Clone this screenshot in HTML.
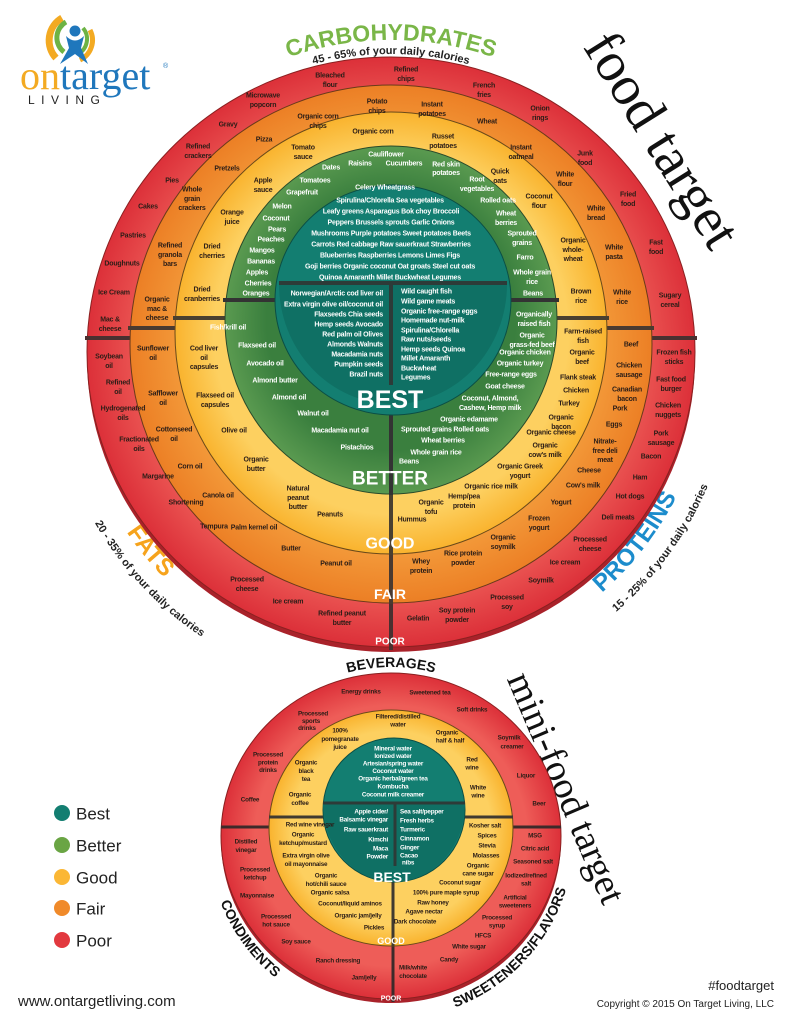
<!DOCTYPE html>
<html><head><meta charset="utf-8"><style>
html,body{margin:0;padding:0;background:#fff;width:791px;height:1024px;overflow:hidden}
svg{display:block}
.d,.w{font-family:"Liberation Sans Narrow","Liberation Sans",sans-serif;font-weight:bold;font-size:7px;letter-spacing:-0.2px;text-anchor:middle;dominant-baseline:central}
.d{fill:#2b1d17}.w{fill:#fff}
.m{font-size:6.3px}
.e{text-anchor:end}.s{text-anchor:start}
.lab{font-family:"Liberation Sans",sans-serif;font-weight:bold;fill:#fff;text-anchor:middle;dominant-baseline:central}
.leg{font-family:"Liberation Sans",sans-serif;font-size:17px;fill:#222;dominant-baseline:central}
</style></head><body>
<svg width="791" height="1024" viewBox="0 0 791 1024" xmlns="http://www.w3.org/2000/svg">
<defs>
<path id="carb" d="M79,352 A312,312 0 0 1 703,352"/>
<path id="carbs" d="M93,352 A298,298 0 0 1 689,352"/>
<path id="fat" d="M71,352 A320,320 0 0 0 391,672"/>
<path id="fats" d="M49,352 A342,342 0 0 0 391,694"/>
<path id="pro" d="M391,672 A320,320 0 0 0 711,352"/>
<path id="pros" d="M391,696 A344,344 0 0 0 735,352"/>
<path id="bev" d="M222,836 A169,169 0 0 1 560,836"/>
<path id="cond" d="M208,836 A183,183 0 0 0 391,1019"/>
<path id="swt" d="M391,1019 A183,183 0 0 0 574,836"/>
<radialGradient id="gr" cx="50%" cy="50%" r="50%"><stop offset="80%" stop-color="#ee5d58"/><stop offset="100%" stop-color="#dc3039"/></radialGradient>
<radialGradient id="go" cx="50%" cy="50%" r="50%"><stop offset="80%" stop-color="#f39a3a"/><stop offset="100%" stop-color="#ec7f25"/></radialGradient>
<radialGradient id="gy" cx="50%" cy="50%" r="50%"><stop offset="82%" stop-color="#fdd060"/><stop offset="100%" stop-color="#f9b32e"/></radialGradient>
<radialGradient id="gg" cx="50%" cy="50%" r="50%"><stop offset="75%" stop-color="#3a7f3e"/><stop offset="100%" stop-color="#5a9a50"/></radialGradient>
</defs>

<!-- logo -->
<path d="M56,58 A26,26 0 0 1 62,18" fill="none" stroke="#f3aa22" stroke-width="7"/>
<path d="M64,52 A18,18 0 0 1 66,22" fill="none" stroke="#6db344" stroke-width="5"/>
<path d="M90,30 A22,22 0 0 1 80,60" fill="none" stroke="#f3aa22" stroke-width="5"/>
<path d="M83,28 A17,17 0 0 1 78,54" fill="none" stroke="#6db344" stroke-width="4"/>
<circle cx="75" cy="31" r="5.5" fill="#1f77bc"/>
<path d="M66,36 Q75,45 84,36 L81,48 L88,64 L75,54 L60,64 L69,48 Z" fill="#1f77bc"/>
<text x="20" y="89" font-family="Liberation Serif,serif" font-size="40" fill="#f3aa22">on<tspan fill="#1f77bc">target</tspan></text>
<text x="163" y="68" font-family="Liberation Sans,sans-serif" font-size="7" fill="#1f77bc">®</text>
<text x="28" y="104" font-family="Liberation Sans,sans-serif" font-size="12" letter-spacing="6.5" fill="#222">LIVING</text>

<!-- titles -->
<text x="662" y="140" font-family="Liberation Serif,serif" font-size="56" fill="#111" text-anchor="middle" dominant-baseline="central" transform="rotate(58 662 140)">food target</text>
<text x="566" y="788" font-family="Liberation Serif,serif" font-size="38" fill="#111" text-anchor="middle" dominant-baseline="central" transform="rotate(67 566 788)">mini-food target</text>

<text font-family="Liberation Sans,sans-serif" font-weight="bold" font-size="23" fill="#7ab648"><textPath href="#carb" startOffset="50%" text-anchor="middle">CARBOHYDRATES</textPath></text>
<text font-family="Liberation Sans,sans-serif" font-weight="bold" font-size="11" fill="#222"><textPath href="#carbs" startOffset="50%" text-anchor="middle">45 - 65% of your daily calories</textPath></text>
<text font-family="Liberation Sans,sans-serif" font-weight="bold" font-size="24" fill="#f6a31c"><textPath href="#fat" startOffset="44%" text-anchor="middle">FATS</textPath></text>
<text font-family="Liberation Sans,sans-serif" font-weight="bold" font-size="11" fill="#222"><textPath href="#fats" startOffset="48%" text-anchor="middle">20 - 35% of your daily calories</textPath></text>
<text font-family="Liberation Sans,sans-serif" font-weight="bold" font-size="24" fill="#1c8ccc"><textPath href="#pro" startOffset="58%" text-anchor="middle">PROTEINS</textPath></text>
<text font-family="Liberation Sans,sans-serif" font-weight="bold" font-size="11" fill="#222"><textPath href="#pros" startOffset="60%" text-anchor="middle">15 - 25% of your daily calories</textPath></text>

<!-- big target -->
<ellipse cx="391" cy="358" rx="304" ry="294" fill="#a9222a"/>
<ellipse cx="391" cy="352" rx="304" ry="295" fill="url(#gr)" stroke="#8a2020" stroke-width="1"/>
<line x1="85" y1="338" x2="697" y2="338" stroke="#4a3030" stroke-width="4"/>
<line x1="391" y1="338" x2="391" y2="650" stroke="#4a3030" stroke-width="4"/>
<ellipse cx="391" cy="344" rx="261" ry="259" fill="url(#go)" stroke="#6a3a1a" stroke-width="1"/>
<line x1="128" y1="328" x2="654" y2="328" stroke="#4a3a30" stroke-width="4"/>
<line x1="391" y1="328" x2="391" y2="604" stroke="#4a3a30" stroke-width="4"/>
<ellipse cx="391" cy="333" rx="216" ry="221" fill="url(#gy)" stroke="#6a4a1a" stroke-width="1"/>
<line x1="173" y1="318" x2="609" y2="318" stroke="#4a4030" stroke-width="4"/>
<line x1="391" y1="318" x2="391" y2="555" stroke="#4a4030" stroke-width="4"/>
<ellipse cx="391" cy="320" rx="166" ry="174" fill="url(#gg)" stroke="#2a4a2a" stroke-width="1"/>
<line x1="223" y1="300" x2="559" y2="300" stroke="#333" stroke-width="4"/>
<line x1="391" y1="300" x2="391" y2="495" stroke="#333" stroke-width="4"/>
<ellipse cx="393" cy="300" rx="118" ry="115" fill="#137e71" stroke="#0b4e45" stroke-width="1"/>
<path d="M279,284 L507,284 A114,120 0 0 1 279,284 Z" fill="#0f7064"/>
<line x1="279" y1="283" x2="507" y2="283" stroke="#2d3b38" stroke-width="4"/>
<line x1="391" y1="283" x2="391" y2="385" stroke="#2d3b38" stroke-width="4"/>

<text class="lab" x="390" y="400" font-size="25">BEST</text>
<text class="lab" x="390" y="479" font-size="19">BETTER</text>
<text class="lab" x="390" y="544" font-size="16">GOOD</text>
<text class="lab" x="390" y="594" font-size="14">FAIR</text>
<text class="lab" x="390" y="642" font-size="10">POOR</text>

<!-- poor -->
<g class="d">
<text class="d" x="330" y="76">Bleached<tspan x="330" dy="9">flour</tspan></text>
<text class="d" x="406" y="70">Refined<tspan x="406" dy="9">chips</tspan></text>
<text class="d" x="484" y="86">French<tspan x="484" dy="9">fries</tspan></text>
<text class="d" x="263" y="96">Microwave<tspan x="263" dy="9">popcorn</tspan></text>
<text class="d" x="540" y="109">Onion<tspan x="540" dy="9">rings</tspan></text>
<text class="d" x="228" y="125">Gravy</text>
<text class="d" x="198" y="147">Refined<tspan x="198" dy="9">crackers</tspan></text>
<text class="d" x="585" y="154">Junk<tspan x="585" dy="9">food</tspan></text>
<text class="d" x="172" y="181">Pies</text>
<text class="d" x="148" y="207">Cakes</text>
<text class="d" x="628" y="195">Fried<tspan x="628" dy="9">food</tspan></text>
<text class="d" x="133" y="236">Pastries</text>
<text class="d" x="656" y="243">Fast<tspan x="656" dy="9">food</tspan></text>
<text class="d" x="122" y="264">Doughnuts</text>
<text class="d" x="670" y="296">Sugary<tspan x="670" dy="9">cereal</tspan></text>
<text class="d" x="114" y="293">Ice Cream</text>
<text class="d" x="110" y="320">Mac &amp;<tspan x="110" dy="9">cheese</tspan></text>
<text class="d" x="109" y="357">Soybean<tspan x="109" dy="9">oil</tspan></text>
<text class="d" x="118" y="383">Refined<tspan x="118" dy="9">oil</tspan></text>
<text class="d" x="123" y="409">Hydrogenated<tspan x="123" dy="9">oils</tspan></text>
<text class="d" x="139" y="440">Fractionated<tspan x="139" dy="9">oils</tspan></text>
<text class="d" x="158" y="477">Margarine</text>
<text class="d" x="186" y="503">Shortening</text>
<text class="d" x="214" y="527">Tempura</text>
<text class="d" x="247" y="580">Processed<tspan x="247" dy="9">cheese</tspan></text>
<text class="d" x="288" y="602">Ice cream</text>
<text class="d" x="342" y="614">Refined peanut<tspan x="342" dy="9">butter</tspan></text>
<text class="d" x="674" y="353">Frozen fish<tspan x="674" dy="9">sticks</tspan></text>
<text class="d" x="671" y="380">Fast food<tspan x="671" dy="9">burger</tspan></text>
<text class="d" x="668" y="406">Chicken<tspan x="668" dy="9">nuggets</tspan></text>
<text class="d" x="661" y="434">Pork<tspan x="661" dy="9">sausage</tspan></text>
<text class="d" x="651" y="457">Bacon</text>
<text class="d" x="640" y="478">Ham</text>
<text class="d" x="630" y="497">Hot dogs</text>
<text class="d" x="618" y="518">Deli meats</text>
<text class="d" x="590" y="540">Processed<tspan x="590" dy="9">cheese</tspan></text>
<text class="d" x="565" y="563">Ice cream</text>
<text class="d" x="541" y="581">Soymilk</text>
<text class="d" x="507" y="598">Processed<tspan x="507" dy="9">soy</tspan></text>
<text class="d" x="457" y="611">Soy protein<tspan x="457" dy="9">powder</tspan></text>
<text class="d" x="418" y="619">Gelatin</text>
</g>

<!-- fair -->
<text class="d" x="377" y="102">Potato<tspan x="377" dy="9">chips</tspan></text>
<text class="d" x="432" y="105">Instant<tspan x="432" dy="9">potatoes</tspan></text>
<text class="d" x="318" y="117">Organic corn<tspan x="318" dy="9">chips</tspan></text>
<text class="d" x="487" y="122">Wheat</text>
<text class="d" x="264" y="140">Pizza</text>
<text class="d" x="521" y="148">Instant<tspan x="521" dy="9">oatmeal</tspan></text>
<text class="d" x="227" y="169">Pretzels</text>
<text class="d" x="565" y="175">White<tspan x="565" dy="9">flour</tspan></text>
<text class="d" x="192" y="190">Whole<tspan x="192" dy="9">grain</tspan><tspan x="192" dy="9">crackers</tspan></text>
<text class="d" x="596" y="209">White<tspan x="596" dy="9">bread</tspan></text>
<text class="d" x="170" y="246">Refined<tspan x="170" dy="9">granola</tspan><tspan x="170" dy="9">bars</tspan></text>
<text class="d" x="614" y="248">White<tspan x="614" dy="9">pasta</tspan></text>
<text class="d" x="157" y="300">Organic<tspan x="157" dy="9">mac &amp;</tspan><tspan x="157" dy="9">cheese</tspan></text>
<text class="d" x="622" y="293">White<tspan x="622" dy="9">rice</tspan></text>
<text class="d" x="153" y="349">Sunflower<tspan x="153" dy="9">oil</tspan></text>
<text class="d" x="163" y="394">Safflower<tspan x="163" dy="9">oil</tspan></text>
<text class="d" x="174" y="430">Cottonseed<tspan x="174" dy="9">oil</tspan></text>
<text class="d" x="190" y="467">Corn oil</text>
<text class="d" x="218" y="496">Canola oil</text>
<text class="d" x="254" y="528">Palm kernel oil</text>
<text class="d" x="291" y="549">Butter</text>
<text class="d" x="336" y="564">Peanut oil</text>
<text class="d" x="631" y="345">Beef</text>
<text class="d" x="629" y="366">Chicken<tspan x="629" dy="9">sausage</tspan></text>
<text class="d" x="627" y="390">Canadian<tspan x="627" dy="9">bacon</tspan></text>
<text class="d" x="620" y="409">Pork</text>
<text class="d" x="614" y="425">Eggs</text>
<text class="d" x="605" y="442">Nitrate-<tspan x="605" dy="9">free deli</tspan><tspan x="605" dy="9">meat</tspan></text>
<text class="d" x="589" y="471">Cheese</text>
<text class="d" x="583" y="486">Cow's milk</text>
<text class="d" x="561" y="503">Yogurt</text>
<text class="d" x="539" y="519">Frozen<tspan x="539" dy="9">yogurt</tspan></text>
<text class="d" x="503" y="538">Organic<tspan x="503" dy="9">soymilk</tspan></text>
<text class="d" x="463" y="554">Rice protein<tspan x="463" dy="9">powder</tspan></text>
<text class="d" x="421" y="562">Whey<tspan x="421" dy="9">protein</tspan></text>

<!-- good -->
<text class="d" x="373" y="132">Organic corn</text>
<text class="d" x="443" y="137">Russet<tspan x="443" dy="9">potatoes</tspan></text>
<text class="d" x="303" y="148">Tomato<tspan x="303" dy="9">sauce</tspan></text>
<text class="d" x="263" y="181">Apple<tspan x="263" dy="9">sauce</tspan></text>
<text class="d" x="500" y="172">Quick<tspan x="500" dy="9">oats</tspan></text>
<text class="d" x="232" y="213">Orange<tspan x="232" dy="9">juice</tspan></text>
<text class="d" x="539" y="197">Coconut<tspan x="539" dy="9">flour</tspan></text>
<text class="d" x="212" y="247">Dried<tspan x="212" dy="9">cherries</tspan></text>
<text class="d" x="573" y="241">Organic<tspan x="573" dy="9">whole-</tspan><tspan x="573" dy="9">wheat</tspan></text>
<text class="d" x="202" y="290">Dried<tspan x="202" dy="9">cranberries</tspan></text>
<text class="d" x="581" y="292">Brown<tspan x="581" dy="9">rice</tspan></text>
<text class="d" x="204" y="349">Cod liver<tspan x="204" dy="9">oil</tspan><tspan x="204" dy="9">capsules</tspan></text>
<text class="d" x="215" y="396">Flaxseed oil<tspan x="215" dy="9">capsules</tspan></text>
<text class="d" x="234" y="431">Olive oil</text>
<text class="d" x="256" y="460">Organic<tspan x="256" dy="9">butter</tspan></text>
<text class="d" x="298" y="489">Natural<tspan x="298" dy="9">peanut</tspan><tspan x="298" dy="9">butter</tspan></text>
<text class="d" x="330" y="515">Peanuts</text>
<text class="d" x="583" y="332">Farm-raised<tspan x="583" dy="9">fish</tspan></text>
<text class="d" x="582" y="353">Organic<tspan x="582" dy="9">beef</tspan></text>
<text class="d" x="578" y="378">Flank steak</text>
<text class="d" x="576" y="391">Chicken</text>
<text class="d" x="569" y="404">Turkey</text>
<text class="d" x="561" y="418">Organic<tspan x="561" dy="9">bacon</tspan></text>
<text class="d" x="551" y="433">Organic cheese</text>
<text class="d" x="545" y="446">Organic<tspan x="545" dy="9">cow's milk</tspan></text>
<text class="d" x="520" y="467">Organic Greek<tspan x="520" dy="9">yogurt</tspan></text>
<text class="d" x="491" y="487">Organic rice milk</text>
<text class="d" x="464" y="497">Hemp/pea<tspan x="464" dy="9">protein</tspan></text>
<text class="d" x="431" y="503">Organic<tspan x="431" dy="9">tofu</tspan></text>
<text class="d" x="412" y="520">Hummus</text>

<!-- better -->
<text class="w" x="386" y="155">Cauliflower</text>
<text class="w" x="331" y="168">Dates</text>
<text class="w" x="360" y="164">Raisins</text>
<text class="w" x="404" y="164">Cucumbers</text>
<text class="w" x="446" y="165">Red skin<tspan x="446" dy="8">potatoes</tspan></text>
<text class="w" x="315" y="181">Tomatoes</text>
<text class="w" x="477" y="180">Root<tspan x="477" dy="9">vegetables</tspan></text>
<text class="w" x="302" y="193">Grapefruit</text>
<text class="w" x="498" y="201">Rolled oats</text>
<text class="w" x="282" y="207">Melon</text>
<text class="w" x="506" y="214">Wheat<tspan x="506" dy="9">berries</tspan></text>
<text class="w" x="276" y="219">Coconut</text>
<text class="w" x="277" y="230">Pears</text>
<text class="w" x="522" y="234">Sprouted<tspan x="522" dy="9">grains</tspan></text>
<text class="w" x="271" y="240">Peaches</text>
<text class="w" x="262" y="251">Mangos</text>
<text class="w" x="525" y="258">Farro</text>
<text class="w" x="261" y="262">Bananas</text>
<text class="w" x="257" y="273">Apples</text>
<text class="w" x="532" y="273">Whole grain<tspan x="532" dy="9">rice</tspan></text>
<text class="w" x="258" y="284">Cherries</text>
<text class="w" x="256" y="294">Oranges</text>
<text class="w" x="533" y="294">Beans</text>
<text class="w" x="228" y="328">Fish/krill oil</text>
<text class="w" x="257" y="346">Flaxseed oil</text>
<text class="w" x="265" y="364">Avocado oil</text>
<text class="w" x="275" y="381">Almond butter</text>
<text class="w" x="289" y="398">Almond oil</text>
<text class="w" x="313" y="414">Walnut oil</text>
<text class="w" x="340" y="431">Macadamia nut oil</text>
<text class="w" x="357" y="448">Pistachios</text>
<text class="w" x="534" y="315">Organically<tspan x="534" dy="9">raised fish</tspan></text>
<text class="w" x="532" y="336">Organic<tspan x="532" dy="9">grass-fed beef</tspan></text>
<text class="w" x="525" y="353">Organic chicken</text>
<text class="w" x="520" y="364">Organic turkey</text>
<text class="w" x="511" y="375">Free-range eggs</text>
<text class="w" x="505" y="387">Goat cheese</text>
<text class="w" x="490" y="399">Coconut, Almond,<tspan x="490" dy="9">Cashew, Hemp milk</tspan></text>
<text class="w" x="469" y="420">Organic edamame</text>
<text class="w" x="445" y="430">Sprouted grains   Rolled oats</text>
<text class="w" x="443" y="441">Wheat berries</text>
<text class="w" x="436" y="453">Whole grain rice</text>
<text class="w" x="409" y="462">Beans</text>

<!-- best -->
<text class="w" x="385" y="188">Celery   Wheatgrass</text>
<text class="w" x="390" y="201">Spirulina/Chlorella   Sea vegetables</text>
<text class="w" x="391" y="212">Leafy greens   Asparagus   Bok choy   Broccoli</text>
<text class="w" x="391" y="223">Peppers   Brussels sprouts   Garlic   Onions</text>
<text class="w" x="391" y="234">Mushrooms   Purple potatoes   Sweet potatoes   Beets</text>
<text class="w" x="391" y="245">Carrots   Red cabbage   Raw sauerkraut   Strawberries</text>
<text class="w" x="390" y="256">Blueberries   Raspberries   Lemons   Limes   Figs</text>
<text class="w" x="390" y="267">Goji berries   Organic coconut   Oat groats   Steel cut oats</text>
<text class="w" x="390" y="278">Quinoa   Amaranth   Millet   Buckwheat   Legumes</text>
<g>
<text class="w e" x="383" y="294">Norwegian/Arctic cod liver oil</text>
<text class="w e" x="383" y="305">Extra virgin olive oil/coconut oil</text>
<text class="w e" x="383" y="315">Flaxseeds    Chia seeds</text>
<text class="w e" x="383" y="325">Hemp seeds    Avocado</text>
<text class="w e" x="383" y="335">Red palm oil     Olives</text>
<text class="w e" x="383" y="345">Almonds    Walnuts</text>
<text class="w e" x="383" y="355">Macadamia nuts</text>
<text class="w e" x="383" y="365">Pumpkin seeds</text>
<text class="w e" x="383" y="375">Brazil nuts</text>
<text class="w s" x="401" y="292">Wild caught fish</text>
<text class="w s" x="401" y="302">Wild game meats</text>
<text class="w s" x="401" y="312">Organic free-range eggs</text>
<text class="w s" x="401" y="321">Homemade nut-milk</text>
<text class="w s" x="401" y="331">Spirulina/Chlorella</text>
<text class="w s" x="401" y="340">Raw nuts/seeds</text>
<text class="w s" x="401" y="350">Hemp seeds    Quinoa</text>
<text class="w s" x="401" y="359">Millet    Amaranth</text>
<text class="w s" x="401" y="369">Buckwheat</text>
<text class="w s" x="401" y="378">Legumes</text>
</g>

<!-- mini target -->
<text font-family="Liberation Sans,sans-serif" font-weight="bold" font-size="14" fill="#111"><textPath href="#bev" startOffset="50%" text-anchor="middle">BEVERAGES</textPath></text>
<text font-family="Liberation Sans,sans-serif" font-weight="bold" font-size="14" fill="#111"><textPath href="#cond" startOffset="40%" text-anchor="middle">CONDIMENTS</textPath></text>
<text font-family="Liberation Sans,sans-serif" font-weight="bold" font-size="14" fill="#111"><textPath href="#swt" startOffset="52%" text-anchor="middle">SWEETENERS/FLAVORS</textPath></text>

<ellipse cx="391" cy="840" rx="170" ry="163" fill="#a9222a"/>
<ellipse cx="391" cy="836" rx="170" ry="163" fill="url(#gr)" stroke="#8a2020" stroke-width="1"/>
<line x1="221" y1="827" x2="561" y2="827" stroke="#3d2a2a" stroke-width="3"/>
<line x1="393" y1="827" x2="393" y2="1002" stroke="#3d2a2a" stroke-width="3"/>
<ellipse cx="391" cy="828" rx="122" ry="118" fill="url(#gy)" stroke="#6a4a1a" stroke-width="1"/>
<line x1="269" y1="817" x2="513" y2="817" stroke="#403a30" stroke-width="3"/>
<line x1="393" y1="817" x2="393" y2="946" stroke="#403a30" stroke-width="3"/>
<ellipse cx="394" cy="810" rx="71" ry="72" fill="#137e71" stroke="#0b4e45" stroke-width="1"/>
<path d="M323,804 L465,804 A71,78 0 0 1 323,804 Z" fill="#0f7064"/>
<line x1="323" y1="803" x2="465" y2="803" stroke="#2d3b38" stroke-width="3"/>
<line x1="395" y1="803" x2="395" y2="866" stroke="#2d3b38" stroke-width="3"/>
<text class="lab" x="392" y="877" font-size="14">BEST</text>
<text class="lab" x="391" y="941" font-size="9">GOOD</text>
<text class="lab" x="391" y="999" font-size="7">POOR</text>

<g>
<text class="w m" x="393" y="749">Mineral water</text>
<text class="w m" x="393" y="756.5">Ionized water</text>
<text class="w m" x="393" y="764">Artesian/spring water</text>
<text class="w m" x="393" y="771.5">Coconut water</text>
<text class="w m" x="393" y="779">Organic herbal/green tea</text>
<text class="w m" x="393" y="787">Kombucha</text>
<text class="w m" x="393" y="795">Coconut milk creamer</text>
<text class="w m e" x="388" y="812">Apple cider/</text>
<text class="w m e" x="388" y="820">Balsamic vinegar</text>
<text class="w m e" x="388" y="830">Raw sauerkraut</text>
<text class="w m e" x="388" y="840">Kimchi</text>
<text class="w m e" x="388" y="849">Maca</text>
<text class="w m e" x="388" y="857">Powder</text>
<text class="w m s" x="400" y="812">Sea salt/pepper</text>
<text class="w m s" x="400" y="821">Fresh herbs</text>
<text class="w m s" x="400" y="830">Turmeric</text>
<text class="w m s" x="400" y="839">Cinnamon</text>
<text class="w m s" x="400" y="848">Ginger</text>
<text class="w m s" x="400" y="856">Cacao</text>
<text class="w m s" x="402" y="863">nibs</text>
</g>
<g>
<text class="d m" x="398" y="717">Filtered/distilled<tspan x="398" dy="7.5">water</tspan></text>
<text class="d m" x="340" y="731">100%<tspan x="340" dy="8">pomegranate</tspan><tspan x="340" dy="8">juice</tspan></text>
<text class="d m" x="447" y="733">Organic<tspan x="450" dy="7.5">half &amp; half</tspan></text>
<text class="d m" x="306" y="763">Organic<tspan x="306" dy="8">black</tspan><tspan x="306" dy="8">tea</tspan></text>
<text class="d m" x="472" y="760">Red<tspan x="472" dy="7.5">wine</tspan></text>
<text class="d m" x="300" y="795">Organic<tspan x="300" dy="8">coffee</tspan></text>
<text class="d m" x="478" y="788">White<tspan x="478" dy="7.5">wine</tspan></text>
<text class="d m" x="310" y="825">Red wine vinegar</text>
<text class="d m" x="303" y="835">Organic<tspan x="303" dy="8">ketchup/mustard</tspan></text>
<text class="d m" x="306" y="856">Extra virgin olive<tspan x="306" dy="8">oil mayonnaise</tspan></text>
<text class="d m" x="326" y="876">Organic<tspan x="326" dy="8">hot/chili sauce</tspan></text>
<text class="d m" x="330" y="893">Organic salsa</text>
<text class="d m" x="350" y="904">Coconut/liquid aminos</text>
<text class="d m" x="358" y="916">Organic jam/jelly</text>
<text class="d m" x="374" y="928">Pickles</text>
<text class="d m" x="485" y="826">Kosher salt</text>
<text class="d m" x="487" y="836">Spices</text>
<text class="d m" x="487" y="846">Stevia</text>
<text class="d m" x="486" y="856">Molasses</text>
<text class="d m" x="478" y="866">Organic<tspan x="478" dy="7.5">cane sugar</tspan></text>
<text class="d m" x="460" y="883">Coconut sugar</text>
<text class="d m" x="446" y="893">100% pure maple syrup</text>
<text class="d m" x="433" y="903">Raw honey</text>
<text class="d m" x="424" y="912">Agave nectar</text>
<text class="d m" x="415" y="922">Dark chocolate</text>
<text class="d m" x="361" y="692">Energy drinks</text>
<text class="d m" x="430" y="693">Sweetened tea</text>
<text class="d m" x="313" y="714">Processed<tspan x="311" dy="7">sports</tspan><tspan x="307" dy="7">drinks</tspan></text>
<text class="d m" x="472" y="710">Soft drinks</text>
<text class="d m" x="268" y="755">Processed<tspan x="268" dy="7.5">protein</tspan><tspan x="268" dy="7.5">drinks</tspan></text>
<text class="d m" x="509" y="738">Soymilk<tspan x="512" dy="8.5">creamer</tspan></text>
<text class="d m" x="526" y="776">Liquor</text>
<text class="d m" x="250" y="800">Coffee</text>
<text class="d m" x="539" y="804">Beer</text>
<text class="d m" x="246" y="842">Distilled<tspan x="246" dy="8">vinegar</tspan></text>
<text class="d m" x="255" y="870">Processed<tspan x="255" dy="7.5">ketchup</tspan></text>
<text class="d m" x="257" y="896">Mayonnaise</text>
<text class="d m" x="276" y="917">Processed<tspan x="276" dy="7.5">hot sauce</tspan></text>
<text class="d m" x="296" y="942">Soy sauce</text>
<text class="d m" x="338" y="961">Ranch dressing</text>
<text class="d m" x="364" y="978">Jam/jelly</text>
<text class="d m" x="535" y="836">MSG</text>
<text class="d m" x="535" y="849">Citric acid</text>
<text class="d m" x="533" y="862">Seasoned salt</text>
<text class="d m" x="526" y="876">Iodized/refined<tspan x="526" dy="7.5">salt</tspan></text>
<text class="d m" x="515" y="898">Artificial<tspan x="515" dy="7.5">sweeteners</tspan></text>
<text class="d m" x="497" y="918">Processed<tspan x="497" dy="7.5">syrup</tspan></text>
<text class="d m" x="483" y="936">HFCS</text>
<text class="d m" x="469" y="947">White sugar</text>
<text class="d m" x="449" y="960">Candy</text>
<text class="d m" x="413" y="968">Milk/white<tspan x="413" dy="8">chocolate</tspan></text>
</g>

<!-- legend -->
<circle cx="62" cy="813" r="8" fill="#137e71"/><text class="leg" x="76" y="814">Best</text>
<circle cx="62" cy="845" r="8" fill="#6aa544"/><text class="leg" x="76" y="846">Better</text>
<circle cx="62" cy="877" r="8" fill="#fbb735"/><text class="leg" x="76" y="878">Good</text>
<circle cx="62" cy="908" r="8" fill="#f08a2a"/><text class="leg" x="76" y="909">Fair</text>
<circle cx="62" cy="940" r="8" fill="#e2393f"/><text class="leg" x="76" y="941">Poor</text>

<text x="18" y="1006" font-family="Liberation Sans,sans-serif" font-size="15" fill="#222">www.ontargetliving.com</text>
<text x="774" y="990" font-family="Liberation Sans,sans-serif" font-size="13" fill="#222" text-anchor="end">#foodtarget</text>
<text x="774" y="1007" font-family="Liberation Sans,sans-serif" font-size="10" fill="#222" text-anchor="end">Copyright © 2015 On Target Living, LLC</text>
</svg>
</body></html>
